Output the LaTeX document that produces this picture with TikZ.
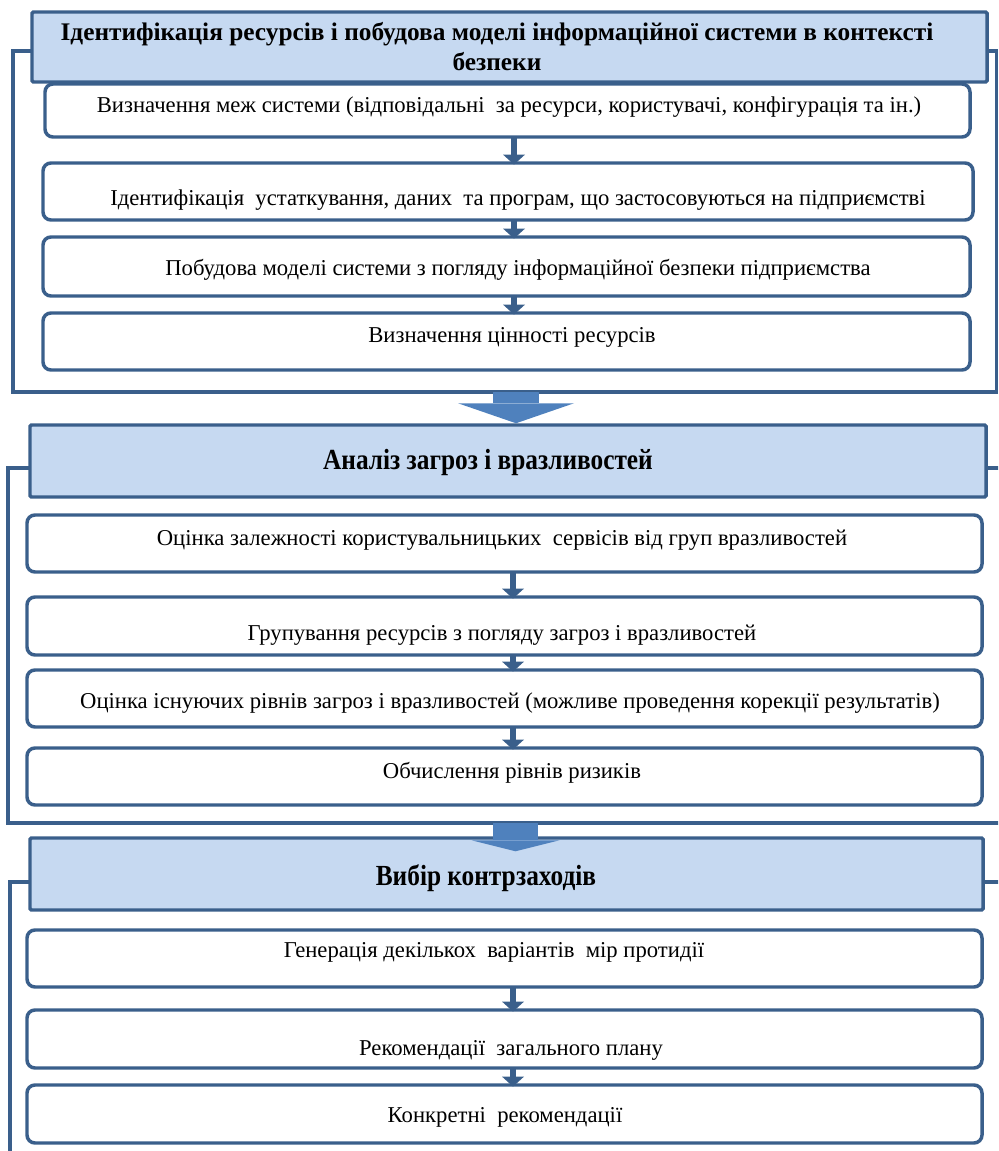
\documentclass[tikz,border=0pt]{standalone}
\usepackage{fontspec}
\setmainfont{Liberation Serif}
\usetikzlibrary{arrows.meta,fit}
\definecolor{bord}{HTML}{3A5F8B}
\definecolor{headfill}{HTML}{C6D9F1}
\definecolor{arrfill}{HTML}{4F81BD}
\newcommand{\tallhead}[1]{\scalebox{1}[1.15]{#1}}
\begin{document}
\begin{tikzpicture}[x=0.75pt,y=-0.75pt,
  frameline/.style={draw=bord,line width=2.4pt},
  header/.style={draw=bord,fill=headfill,line width=2.6pt,inner sep=0pt,rounded corners=1pt},
  subbox/.style={draw=bord,fill=white,line width=2.6pt,inner sep=0pt,rounded corners=6pt},
  boxtext/.style={font=\fontsize{17}{20}\selectfont,inner sep=0pt},
  headtext/.style={font=\bfseries\fontsize{19}{22.5}\selectfont,align=center,inner sep=0pt},
  headtextb/.style={font=\bfseries\fontsize{19}{22.5}\selectfont,inner sep=0pt},
  smallarrow/.style={draw=bord,line width=5pt,shorten >=-2.5pt,shorten <=-1pt,-{Triangle[width=16.5pt,length=7.5pt,line width=0pt]}},
  bigarrowA/.style={draw=arrfill,line width=34.5pt,-{Triangle[width=87pt,length=15pt,line width=0pt]}},
  bigarrowB/.style={draw=arrfill,line width=33.75pt,-{Triangle[width=66pt,length=8.25pt,line width=0pt]}},
]
\useasboundingbox (0,0) rectangle (998,1151);
\begin{scope}
\clip (0,0) rectangle (998,1151);
% ---------- section 1
\draw[frameline] (13,51) rectangle (996.5,392);
\node[header,fit={(32,12) (987,82)}] (h1) {};
\node[headtext] (h1t) at (497,47) {Ідентифікація ресурсів і побудова моделі інформаційної системи в контексті\\безпеки};
\node[subbox,fit={(45,84) (970,137)}] (b11) {};
\node[subbox,fit={(43,163) (973,220)}] (b12) {};
\node[subbox,fit={(43,237) (970,296)}] (b13) {};
\node[subbox,fit={(43,313) (970,370)}] (b14) {};
\node[boxtext] (t11) at (509,107) {Визначення меж системи (відповідальні\ \ за ресурси, користувачі,\ конфігурація\ та ін.)};
\node[boxtext] (t12) at (518,200) {Ідентифікація\ \ устаткування,\ даних\ \ та програм, що\ застосовуються\ на\ підприємстві};
\node[boxtext] (t13) at (518,270) {Побудова моделі системи з погляду\ інформаційної безпеки\ підприємства};
\node[boxtext] (t14) at (512,337) {Визначення цінності\ ресурсів};
\draw[smallarrow] (b11.south -| 514,0) -- (b12.north -| 514,0);
\draw[smallarrow] (b12.south -| 514,0) -- (b13.north -| 514,0);
\draw[smallarrow] (b13.south -| 514,0) -- (b14.north -| 514,0);
% ---------- section 2
\draw[frameline] (8,468) rectangle (1003,823);
\node[header,fit={(30,425) (986,497)}] (h2) {};
\node[headtextb] (h2t) at (488,462) {\tallhead{Аналіз загроз і вразливостей}};
\node[subbox,fit={(27,515) (982,572)}] (b21) {};
\node[subbox,fit={(27,597) (982,655)}] (b22) {};
\node[subbox,fit={(27,670) (982,727)}] (b23) {};
\node[subbox,fit={(27,748) (982,805)}] (b24) {};
\node[boxtext] (t21) at (502,540) {Оцінка залежності користувальницьких\ \ сервісів від груп вразливостей};
\node[boxtext] (t22) at (502,635) {Групування ресурсів з погляду загроз і вразливостей};
\node[boxtext] (t23) at (510,703) {Оцінка\ існуючих\ рівнів\ загроз\ і вразливостей\ (можливе\ проведення\ корекції\ результатів)};
\node[boxtext] (t24) at (512,773) {Обчислення рівнів ризиків};
\draw[smallarrow] (b21.south -| 513,0) -- (b22.north -| 513,0);
\draw[smallarrow] (b22.south -| 513,0) -- (b23.north -| 513,0);
\draw[smallarrow] (b23.south -| 513,0) -- (b24.north -| 513,0);
% ---------- section 3
\draw[frameline] (10,882) rectangle (1003,1170);
\node[header,fit={(30,838) (983,910)}] (h3) {};
\node[headtextb] (h3t) at (486,878) {\tallhead{Вибір контрзаходів}};
\node[subbox,fit={(27,930) (982,987)}] (b31) {};
\node[subbox,fit={(27,1010) (982,1068)}] (b32) {};
\node[subbox,fit={(27,1085) (982,1143)}] (b33) {};
\node[boxtext] (t31) at (494,952) {Генерація декількох\ \ варіантів\ \ мір протидії};
\node[boxtext] (t32) at (511,1050) {Рекомендації\ \ загального плану};
\node[boxtext] (t33) at (505,1117) {Конкретні\ \ рекомендації};
\draw[smallarrow] (b31.south -| 513,0) -- (b32.north -| 513,0);
\draw[smallarrow] (b32.south -| 513,0) -- (b33.north -| 513,0);
% ---------- big arrows between sections
\coordinate (a1s) at (516,392);
\coordinate (a2s) at (515.5,823);
\draw[bigarrowA] (a1s) -- (a1s |- h2.north);
\draw[bigarrowB] (a2s) -- ([yshift=-11.25pt]h3.north -| a2s);
\end{scope}
\end{tikzpicture}
\end{document}
